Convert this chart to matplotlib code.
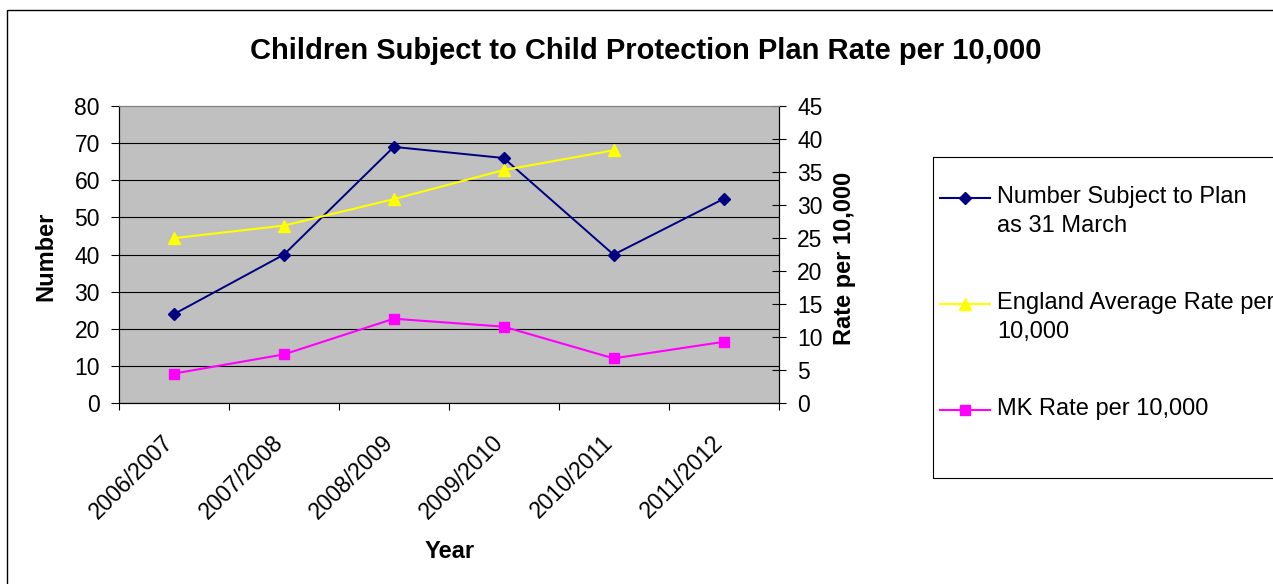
import matplotlib
matplotlib.use("Agg")
import matplotlib.pyplot as plt
from matplotlib.lines import Line2D
from matplotlib.patches import Rectangle
from matplotlib.transforms import Affine2D, ScaledTranslation
import numpy as np

# ---- data ----
years = ["2006/2007", "2007/2008", "2008/2009", "2009/2010", "2010/2011", "2011/2012"]
number_subject = [24, 40, 69, 66, 40, 55]
england_rate = [25.0, 26.9, 30.9, 35.3, 38.3]
mk_rate = [4.5, 7.4, 12.8, 11.6, 6.8, 9.3]
left_ticks = list(range(0, 81, 10))
right_ticks = list(range(0, 46, 5))

title = "Children Subject to Child Protection Plan Rate per 10,000"
label_number = "Number Subject to Plan\nas 31 March"
label_england = "England Average Rate per\n10,000"
label_mk = "MK Rate per 10,000"

NAVY, YELLOW, MAGENTA = "#000080", "#FFFF00", "#FF00FF"

W, H = 1273, 584
plt.rcParams['font.family'] = ['Liberation Sans', 'DejaVu Sans']
fig = plt.figure(figsize=(W / 100, H / 100), dpi=100)
pix = Affine2D().scale(1 / W, -1 / H).translate(0, 1) + fig.transFigure

ax = fig.add_axes([119 / W, 1 - 403.3 / H, 659.5 / W, 297.3 / H])
ax.set_facecolor('#C0C0C0')
ax2 = ax.twinx()

x = np.arange(len(years))
ax.set_xlim(-0.5, len(years) - 0.5)
ax.set_ylim(left_ticks[0], left_ticks[-1])
ax2.set_ylim(right_ticks[0], right_ticks[-1])
ax.set_yticks(left_ticks)
ax2.set_yticks(right_ticks)

# gridlines (skip top)
ax.yaxis.grid(True, color='black', lw=0.8)
ax.set_axisbelow(True)
ax.yaxis.get_gridlines()[-1].set_visible(False)

MS_D, MS_T, MS_S = 5.8, 8.5, 6.8

# lines
ax.plot(x, number_subject, color=NAVY, lw=1.4, marker='D', ms=MS_D,
        mfc=NAVY, mec=NAVY, zorder=3)
ax2.plot(x[:len(england_rate)], england_rate, color=YELLOW, lw=1.5, marker='^',
         ms=MS_T, mfc=YELLOW, mec=YELLOW, zorder=3)
ax2.plot(x, mk_rate, color=MAGENTA, lw=1.5, marker='s', ms=MS_S,
         mfc=MAGENTA, mec=MAGENTA, zorder=3)

# spines
for a in (ax, ax2):
    a.spines['top'].set_color('#808080')
    a.spines['left'].set_color('black')
    a.spines['bottom'].set_color('black')
    a.spines['right'].set_color('black')
    for s in a.spines.values():
        s.set_linewidth(0.8)

# ticks
ax.tick_params(axis='y', direction='out', length=6, width=0.8, pad=7.7,
               labelsize=16.5, colors='black')
ax2.tick_params(axis='y', direction='inout', length=9.4, width=0.8, pad=8.8,
                labelsize=16.5, colors='black')
ax.set_xticks(x)
ax.set_xticklabels(years, rotation=45, ha='right', va='center',
                   rotation_mode='anchor')
ax.tick_params(axis='x', which='major', length=0, pad=26, labelsize=16.5)
ax.set_xticks(np.arange(-0.5, len(years)), minor=True)
ax.tick_params(axis='x', which='minor', direction='out', length=4.8, width=0.8)
for lab in ax.get_xticklabels():
    lab.set_transform(lab.get_transform() +
                      ScaledTranslation(-4 / 100, 0, fig.dpi_scale_trans))

# titles & labels
fig.text(646 / W, 1 - 59 / H, title, ha='center', va='baseline',
         fontsize=21, fontweight='bold')
fig.text(449.5 / W, 1 - 558 / H, "Year", ha='center', va='baseline',
         fontsize=17, fontweight='bold')
fig.text(46 / W, 1 - 256 / H, "Number", ha='center', va='center',
         rotation=90, fontsize=17, fontweight='bold')
fig.text(845 / W, 1 - 258 / H, "Rate per 10,000", ha='center', va='center',
         rotation=90, fontsize=17, fontweight='bold')

# outer chart border
fig.add_artist(Rectangle((7, 10), 1400, 700, transform=pix, fill=False,
                         ec='black', lw=1.0))

# legend (manual, Excel style)
fig.add_artist(Rectangle((932.7, 156.7), 400, 321.3, transform=pix,
                         fill=False, ec='black', lw=0.8))
entries = [
    (label_number, NAVY, 'D', MS_D, 203.3),
    (label_england, YELLOW, '^', MS_T, 309.3),
    (label_mk, MAGENTA, 's', MS_S, 415.0),
]
for lab, col, mk, ms, base in entries:
    yh = base - 5.5
    fig.add_artist(Line2D([940, 990], [yh, yh], transform=pix, color=col,
                          lw=1.5, marker=None))
    fig.add_artist(Line2D([965], [yh], transform=pix, color=col, marker=mk,
                          ms=ms, mfc=col, mec=col, lw=0))
    for i, line in enumerate(lab.split("\n")):
        fig.text(997 / W, 1 - (base + i * 28.6) / H, line, ha='left',
                 va='baseline', fontsize=17)

fig.savefig("out.png", dpi=100)
